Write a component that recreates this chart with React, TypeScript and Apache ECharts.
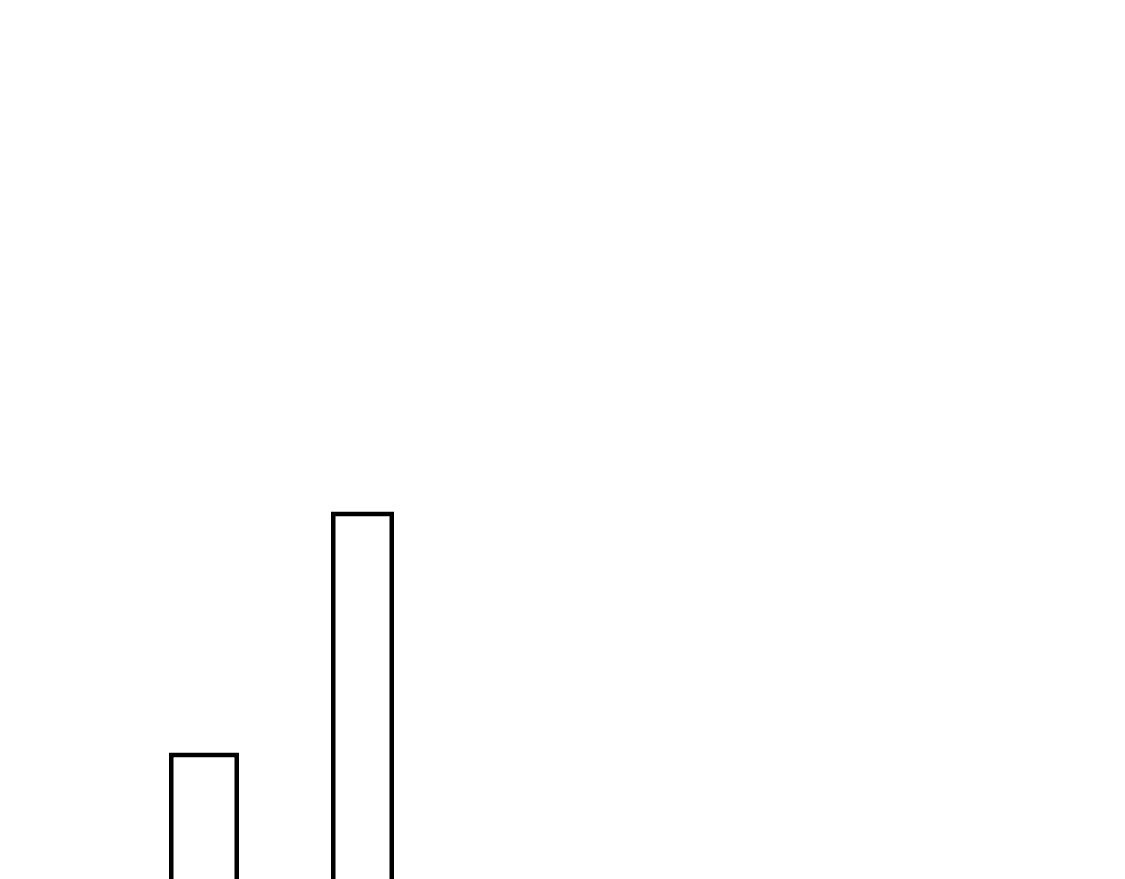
import React, { useEffect, useRef } from "react";
import * as echarts from "echarts";

const categories = ["A", "B"];
const firstValues = [10, "-"];
const secondValues = ["-", 20];

const App: React.FC = () => {
  const chartRef = useRef<HTMLDivElement>(null);

  useEffect(() => {
    const chart = echarts.init(chartRef.current!, undefined, { renderer: "svg" });

    const barStyle = {
      color: "#ffffff",
      borderColor: "#000000",
      borderWidth: 4.5,
    };

    const option: echarts.EChartsOption = {
      animation: false,
      grid: {
        left: 111.5,
        width: 324,
        top: 21.7,
        bottom: 14.3,
      },
      xAxis: {
        type: "category",
        data: categories,
        show: false,
      },
      yAxis: {
        type: "value",
        min: 0,
        max: 40,
        show: false,
      },
      series: [
        {
          type: "bar",
          data: firstValues,
          barWidth: 70,
          barGap: "-100%",
          itemStyle: barStyle,
        },
        {
          type: "bar",
          data: secondValues,
          barWidth: 63,
          barGap: "-100%",
          itemStyle: barStyle,
        },
      ],
    };

    chart.setOption(option);

    return () => {
      chart.dispose();
    };
  }, []);

  return (
    <div style={{ height: "871px", overflow: "hidden" }}>
      <div ref={chartRef} style={{ height: "1000px", width: "1109px" }} />
    </div>
  );
};

export default App;
